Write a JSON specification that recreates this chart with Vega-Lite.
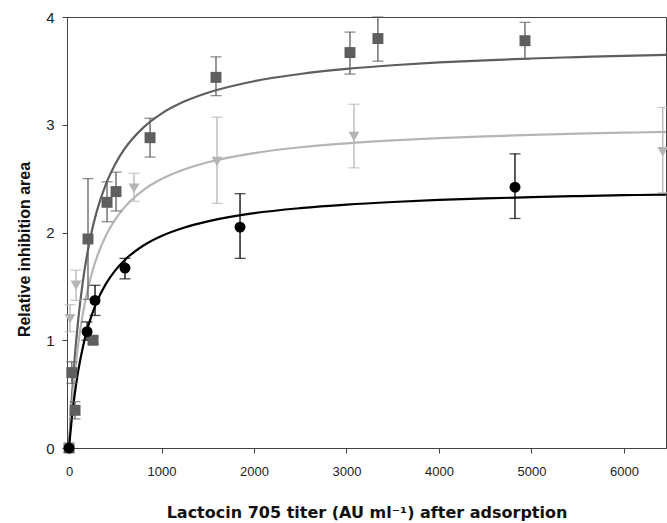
{
  "$schema": "https://vega.github.io/schema/vega-lite/v6.json",
  "width": 599,
  "height": 431,
  "autosize": {"type": "none"},
  "padding": {"left": 67, "top": 17, "right": 1, "bottom": 75},
  "background": "white",
  "config": {
    "font": "Liberation Sans",
    "view": {"stroke": "#444", "strokeWidth": 1},
    "axis": {"grid": false, "domainColor": "#444", "tickColor": "#444", "labelColor": "#222", "titleColor": "#111", "labelFontSize": 13, "titleFontSize": 16, "titleFontWeight": "bold", "tickSize": 5, "labelFont": "Liberation Sans", "titleFont": "Liberation Sans"}
  },
  "datasets": {
    "curves": [
      {"s": "A", "x": 0, "y": 0}, {"s": "A", "x": 10, "y": 0.168}, {"s": "A", "x": 25, "y": 0.393}, {"s": "A", "x": 50, "y": 0.711}, {"s": "A", "x": 75, "y": 0.975}, {"s": "A", "x": 100, "y": 1.197}, {"s": "A", "x": 150, "y": 1.549}, {"s": "A", "x": 200, "y": 1.817}, {"s": "A", "x": 250, "y": 2.027}, {"s": "A", "x": 300, "y": 2.196}, {"s": "A", "x": 400, "y": 2.452}, {"s": "A", "x": 500, "y": 2.636}, {"s": "A", "x": 600, "y": 2.775}, {"s": "A", "x": 800, "y": 2.971}, {"s": "A", "x": 1000, "y": 3.103}, {"s": "A", "x": 1250, "y": 3.217}, {"s": "A", "x": 1500, "y": 3.297}, {"s": "A", "x": 2000, "y": 3.404}, {"s": "A", "x": 2500, "y": 3.471}, {"s": "A", "x": 3000, "y": 3.518}, {"s": "A", "x": 3500, "y": 3.552}, {"s": "A", "x": 4000, "y": 3.578}, {"s": "A", "x": 4500, "y": 3.598}, {"s": "A", "x": 5000, "y": 3.615}, {"s": "A", "x": 5500, "y": 3.628}, {"s": "A", "x": 6000, "y": 3.640}, {"s": "A", "x": 6455, "y": 3.648},
      {"s": "B", "x": 0, "y": 0}, {"s": "B", "x": 10, "y": 0.135}, {"s": "B", "x": 25, "y": 0.317}, {"s": "B", "x": 50, "y": 0.574}, {"s": "B", "x": 75, "y": 0.786}, {"s": "B", "x": 100, "y": 0.965}, {"s": "B", "x": 150, "y": 1.249}, {"s": "B", "x": 200, "y": 1.464}, {"s": "B", "x": 250, "y": 1.633}, {"s": "B", "x": 300, "y": 1.768}, {"s": "B", "x": 400, "y": 1.974}, {"s": "B", "x": 500, "y": 2.122}, {"s": "B", "x": 600, "y": 2.233}, {"s": "B", "x": 800, "y": 2.391}, {"s": "B", "x": 1000, "y": 2.496}, {"s": "B", "x": 1250, "y": 2.587}, {"s": "B", "x": 1500, "y": 2.652}, {"s": "B", "x": 2000, "y": 2.737}, {"s": "B", "x": 2500, "y": 2.791}, {"s": "B", "x": 3000, "y": 2.828}, {"s": "B", "x": 3500, "y": 2.855}, {"s": "B", "x": 4000, "y": 2.876}, {"s": "B", "x": 4500, "y": 2.892}, {"s": "B", "x": 5000, "y": 2.906}, {"s": "B", "x": 5500, "y": 2.917}, {"s": "B", "x": 6000, "y": 2.926}, {"s": "B", "x": 6455, "y": 2.933},
      {"s": "C", "x": 0, "y": 0}, {"s": "C", "x": 10, "y": 0.098}, {"s": "C", "x": 25, "y": 0.230}, {"s": "C", "x": 50, "y": 0.421}, {"s": "C", "x": 75, "y": 0.581}, {"s": "C", "x": 100, "y": 0.718}, {"s": "C", "x": 150, "y": 0.938}, {"s": "C", "x": 200, "y": 1.109}, {"s": "C", "x": 250, "y": 1.245}, {"s": "C", "x": 300, "y": 1.356}, {"s": "C", "x": 400, "y": 1.525}, {"s": "C", "x": 500, "y": 1.649}, {"s": "C", "x": 600, "y": 1.743}, {"s": "C", "x": 800, "y": 1.877}, {"s": "C", "x": 1000, "y": 1.968}, {"s": "C", "x": 1250, "y": 2.047}, {"s": "C", "x": 1500, "y": 2.103}, {"s": "C", "x": 2000, "y": 2.179}, {"s": "C", "x": 2500, "y": 2.226}, {"s": "C", "x": 3000, "y": 2.259}, {"s": "C", "x": 3500, "y": 2.283}, {"s": "C", "x": 4000, "y": 2.302}, {"s": "C", "x": 4500, "y": 2.316}, {"s": "C", "x": 5000, "y": 2.328}, {"s": "C", "x": 5500, "y": 2.338}, {"s": "C", "x": 6000, "y": 2.346}, {"s": "C", "x": 6455, "y": 2.352}
    ],
    "pts": [
      {"s": "A", "x": 0, "y": 0},
      {"s": "A", "x": 65, "y": 0.35, "lo": 0.27, "hi": 0.43},
      {"s": "A", "x": 30, "y": 0.70, "lo": 0.60, "hi": 0.80},
      {"s": "A", "x": 260, "y": 1.00, "lo": 0.97, "hi": 1.03},
      {"s": "A", "x": 205, "y": 1.94, "lo": 1.38, "hi": 2.50},
      {"s": "A", "x": 411, "y": 2.28, "lo": 2.10, "hi": 2.47},
      {"s": "A", "x": 508, "y": 2.38, "lo": 2.20, "hi": 2.56},
      {"s": "A", "x": 876, "y": 2.88, "lo": 2.70, "hi": 3.06},
      {"s": "A", "x": 1589, "y": 3.44, "lo": 3.27, "hi": 3.63},
      {"s": "A", "x": 3038, "y": 3.67, "lo": 3.47, "hi": 3.86},
      {"s": "A", "x": 3340, "y": 3.80, "lo": 3.59, "hi": 4.0},
      {"s": "A", "x": 4930, "y": 3.78, "lo": 3.61, "hi": 3.95},
      {"s": "B", "x": 0, "y": 0},
      {"s": "B", "x": 11, "y": 1.20, "lo": 1.08, "hi": 1.33},
      {"s": "B", "x": 76, "y": 1.51, "lo": 1.37, "hi": 1.65},
      {"s": "B", "x": 703, "y": 2.41, "lo": 2.29, "hi": 2.55},
      {"s": "B", "x": 1600, "y": 2.66, "lo": 2.27, "hi": 3.07},
      {"s": "B", "x": 3081, "y": 2.89, "lo": 2.60, "hi": 3.19},
      {"s": "B", "x": 6420, "y": 2.75, "lo": 2.37, "hi": 3.16},
      {"s": "C", "x": 0, "y": 0},
      {"s": "C", "x": 195, "y": 1.08, "lo": 1.00, "hi": 1.17},
      {"s": "C", "x": 281, "y": 1.37, "lo": 1.23, "hi": 1.51},
      {"s": "C", "x": 605, "y": 1.67, "lo": 1.57, "hi": 1.76},
      {"s": "C", "x": 1849, "y": 2.05, "lo": 1.76, "hi": 2.36},
      {"s": "C", "x": 4822, "y": 2.42, "lo": 2.13, "hi": 2.73}
    ]
  },
  "encoding": {
    "x": {"field": "x", "type": "quantitative", "scale": {"domain": [-22, 6455], "nice": false, "zero": false},
      "axis": {"title": "Lactocin 705 titer (AU ml⁻¹) after adsorption", "titleFont": "DejaVu Sans", "titleFontSize": 16, "values": [0, 1000, 2000, 3000, 4000, 5000, 6000], "labelPadding": 12, "titlePadding": 26, "format": "d"}},
    "y": {"field": "y", "type": "quantitative", "scale": {"domain": [0, 4], "nice": false},
      "axis": {"title": "Relative inhibition area", "titleY": 232, "values": [0, 1, 2, 3, 4], "labelFontSize": 15, "labelPadding": 8, "titlePadding": 13, "format": "d"}},
    "color": {"field": "s", "type": "nominal", "legend": null, "scale": {"domain": ["A", "B", "C"], "range": ["#5e5e5e", "#b5b5b5", "#000000"]}}
  },
  "layer": [
    {
      "data": {"name": "curves"},
      "mark": {"type": "line", "strokeWidth": 2.2, "interpolate": "monotone"},
      "encoding": {"detail": {"field": "s"}}
    },
    {
      "data": {"name": "pts"},
      "transform": [{"filter": "datum.lo != null"}],
      "mark": {"type": "rule", "strokeWidth": 1.3},
      "encoding": {"y": {"field": "lo", "type": "quantitative"}, "y2": {"field": "hi"}}
    },
    {
      "data": {"name": "pts"},
      "transform": [{"filter": "datum.lo != null"}],
      "mark": {"type": "tick", "orient": "horizontal", "size": 11, "thickness": 1.3},
      "encoding": {"y": {"field": "lo", "type": "quantitative"}}
    },
    {
      "data": {"name": "pts"},
      "transform": [{"filter": "datum.lo != null"}],
      "mark": {"type": "tick", "orient": "horizontal", "size": 11, "thickness": 1.3},
      "encoding": {"y": {"field": "hi", "type": "quantitative"}}
    },
    {
      "data": {"name": "pts"},
      "mark": {"type": "point", "filled": true, "opacity": 1, "size": 120},
      "encoding": {"shape": {"field": "s", "type": "nominal", "legend": null, "scale": {"domain": ["A", "B", "C"], "range": ["square", "triangle-down", "circle"]}}}
    }
  ]
}
